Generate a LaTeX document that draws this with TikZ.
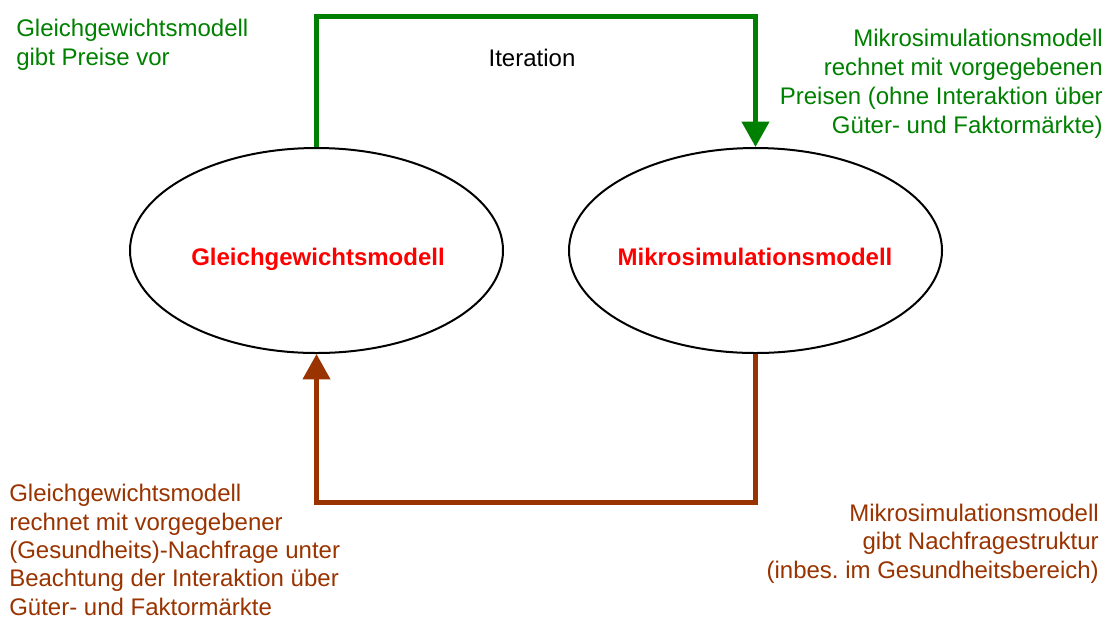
\documentclass[tikz,border=0pt]{standalone}
\usepackage{fontspec}
\setmainfont{Liberation Sans}
\frenchspacing
\usetikzlibrary{shapes.geometric, positioning, arrows.meta}

\definecolor{iterGreen}{RGB}{0,128,0}
\definecolor{demandBrown}{RGB}{153,51,0}

\begin{document}
\begin{tikzpicture}[x=0.75pt, y=-0.75pt, node distance=329.25pt, on grid,
    model/.style={draw, ellipse, line width=1.5pt, minimum width=279.75pt,
                  minimum height=153.75pt, inner sep=0pt},
    modelname/.style={text=red, inner sep=0pt, font=\bfseries\fontsize{18}{21.5}\selectfont},
    note/.style={inner sep=0pt, font=\fontsize{18}{21.75}\selectfont},
    lownote/.style={inner sep=0pt, font=\fontsize{18}{21.25}\selectfont},
    flow/.style={line width=3.75pt, -{Triangle[length=19pt, width=20pt]}}]
        \useasboundingbox (0,0) rectangle (1109,619);

        \node[model] (gg) at (316.5,250.5) {};
        \node[model] (ms) [right=of gg] {};

        \node[modelname, anchor=base] (ggname) at (318,265) {Gleichgewichtsmodell};
        \node[modelname, anchor=base] (msname) at (755,265) {Mikrosimulationsmodell};

        \coordinate (iterTop) at (536,16.5);
        \coordinate (demandBottom) at (536,502.5);

        \draw[flow, iterGreen] (gg.north) |- (iterTop) -| (ms.north);
        \draw[flow, demandBrown] (ms.south) |- (demandBottom) -| (gg.south);

        % anchors sit on the baseline of the last line
        \node[note, iterGreen, align=left, anchor=base west] (pricesNote) at (16,65)
          {Gleichgewichtsmodell\\gibt Preise vor};
        \node[note, anchor=base] (iterLabel) at (532,66) {Iteration};
        \node[note, iterGreen, align=right, anchor=base east] (microNote) at (1103,133)
          {Mikrosimulationsmodell\\rechnet mit vorgegebenen\\Preisen (ohne Interaktion über\\Güter- und Faktormärkte)};
        \node[lownote, demandBrown, align=left, anchor=base west] (equiNote) at (9,615)
          {Gleichgewichtsmodell\\rechnet mit vorgegebener\\(Gesundheits)-Nachfrage unter\\Beachtung der Interaktion über\\Güter- und Faktormärkte};
        \node[lownote, demandBrown, align=right, anchor=base east] (demandNote) at (1099,578)
          {Mikrosimulationsmodell\\gibt Nachfragestruktur\\(inbes. im Gesundheitsbereich)};
\end{tikzpicture}
\end{document}
